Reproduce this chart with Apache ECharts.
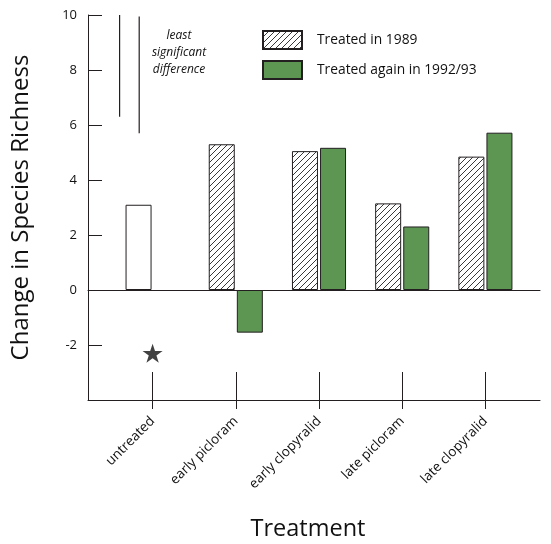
<!DOCTYPE html>
<html><head><meta charset="utf-8">
<script src="https://cdn.jsdelivr.net/npm/echarts@6/dist/echarts.min.js"></script>
<style>html,body{margin:0;padding:0;background:#fff}#c{width:551px;height:544px}</style>
</head><body><div id="c"></div>
<script>
// ---- data ----
const categories = ['untreated', 'early picloram', 'early clopyralid', 'late picloram', 'late clopyralid'];
const treated1989 = [3.1, 5.3, 5.05, 3.15, 4.85];
const treatedAgain = [null, -1.55, 5.17, 2.31, 5.72];
const yTickValues = [-2, 0, 2, 4, 6, 8, 10];
const lsdTop = [10, 9.95];
const lsdBottom = [6.3, 5.7];
const starPoints = [[0, -2.3]];

const INK = '#231f20';
const TXT = '#111111';
const GREEN = '#5d9553';
const FONT = 'Open Sans';

function hatchCanvas() {
  const s = 6, c = document.createElement('canvas');
  c.width = s; c.height = s;
  const g = c.getContext('2d');
  g.fillStyle = '#fff'; g.fillRect(0, 0, s, s);
  g.strokeStyle = '#222'; g.lineWidth = 0.9;
  g.beginPath();
  g.moveTo(0, s); g.lineTo(s, 0);
  g.moveTo(-1, 1); g.lineTo(1, -1);
  g.moveTo(s - 1, s + 1); g.lineTo(s + 1, s - 1);
  g.stroke();
  return c;
}
const hatch = { image: hatchCanvas(), repeat: 'repeat' };

const chart = echarts.init(document.getElementById('c'), null, { renderer: 'canvas' });
const lineStyle = { color: INK, width: 1 };
const lsdOffsets = [-33, -13.4];

chart.setOption({
  animation: false,
  backgroundColor: '#fff',
  textStyle: { fontFamily: FONT, color: TXT },
  grid: [
    { left: 88, right: 11, top: 15, bottom: 144, outerBoundsMode: 'none' },
    { left: 111, right: 24, top: 15, bottom: 144, outerBoundsMode: 'none' }
  ],
  legend: {
    orient: 'vertical', left: 262, top: 30, padding: 0,
    itemWidth: 39, itemHeight: 18, itemGap: 10, icon: 'rect',
    data: ['Treated in 1989', 'Treated again in 1992/93'],
    textStyle: { fontFamily: FONT, fontSize: 13.8, color: TXT, padding: [0, 0, 0, 10] }
  },
  graphic: [{
    type: 'text', x: 179, y: 27,
    style: { text: 'least\nsignificant\ndifference', textAlign: 'center', fontFamily: FONT,
      fontSize: 12, fontStyle: 'italic', lineHeight: 17, fill: TXT }
  }],
  xAxis: [
    { gridIndex: 0, type: 'value', min: 0, max: 1, position: 'bottom',
      axisLine: { show: true, onZero: false, lineStyle }, axisTick: { show: false },
      axisLabel: { show: false }, splitLine: { show: false },
      name: 'Treatment', nameLocation: 'middle', nameGap: 117,
      nameTextStyle: { fontFamily: FONT, fontSize: 23.5, color: TXT, padding: [0, 12, 0, 0] } },
    { gridIndex: 0, type: 'value', min: 0, max: 1, position: 'top',
      axisLine: { show: true, onZero: true, lineStyle }, axisTick: { show: false },
      axisLabel: { show: false }, splitLine: { show: false } },
    { gridIndex: 1, type: 'category', data: categories, position: 'bottom',
      axisLine: { show: false, onZero: false },
      axisTick: { show: false },
      axisLabel: { rotate: 45, margin: 19, fontFamily: FONT, fontSize: 13.5, color: TXT, interval: 0 } },
    { gridIndex: 1, type: 'category', data: categories, position: 'bottom', offset: 9,
      axisLine: { show: false, onZero: false },
      axisTick: { show: true, inside: true, alignWithLabel: true, interval: 0, length: 37, lineStyle },
      axisLabel: { show: false } }
  ],
  yAxis: [
    { gridIndex: 0, type: 'value', min: -4, max: 10, interval: 2,
      axisLine: { show: true, onZero: false, lineStyle },
      axisTick: { show: true, inside: true, length: 14, lineStyle },
      axisLabel: { fontFamily: FONT, fontSize: 13, color: TXT, margin: 11,
        formatter: v => yTickValues.includes(v) ? String(v) : '' },
      splitLine: { show: false },
      name: 'Change in Species Richness', nameLocation: 'middle', nameGap: 55,
      nameTextStyle: { fontFamily: FONT, fontSize: 24, color: TXT } },
    { gridIndex: 1, type: 'value', min: -4, max: 10, interval: 2, show: false,
      axisLine: { onZero: false }, splitLine: { show: false } }
  ],
  series: [
    { name: 'Treated in 1989', type: 'bar', xAxisIndex: 2, yAxisIndex: 1,
      barWidth: 26, barGap: '8%',
      itemStyle: { color: hatch, borderColor: INK, borderWidth: 1 },
      data: treated1989.map((v, i) => i === 0 ? { value: v, itemStyle: { color: '#fff' } } : v) },
    { name: 'Treated again in 1992/93', type: 'bar', xAxisIndex: 2, yAxisIndex: 1,
      barWidth: 26, barGap: '8%',
      itemStyle: { color: GREEN, borderColor: INK, borderWidth: 1 },
      data: treatedAgain.map(v => v == null ? '-' : v) },
    { name: 'significant', type: 'scatter', xAxisIndex: 2, yAxisIndex: 1,
      symbol: 'path://M12,0 L14.9,8.6 L24,8.6 L16.6,13.9 L19.4,22.6 L12,17.3 L4.6,22.6 L7.4,13.9 L0,8.6 L9.1,8.6 Z',
      symbolSize: 20, symbolKeepAspect: true, itemStyle: { color: '#111' }, data: starPoints },
    { name: 'lsd', type: 'custom', xAxisIndex: 2, yAxisIndex: 1,
      data: lsdTop.map((t, i) => [0, t, lsdBottom[i], i]),
      renderItem: (params, api) => {
        const p1 = api.coord([api.value(0), api.value(1)]);
        const p2 = api.coord([api.value(0), api.value(2)]);
        const dx = lsdOffsets[api.value(3)];
        return { type: 'line', shape: { x1: p1[0] + dx, y1: p1[1], x2: p2[0] + dx, y2: p2[1] },
          style: { stroke: INK, lineWidth: 1.2 } };
      } }
  ]
});
</script></body></html>
